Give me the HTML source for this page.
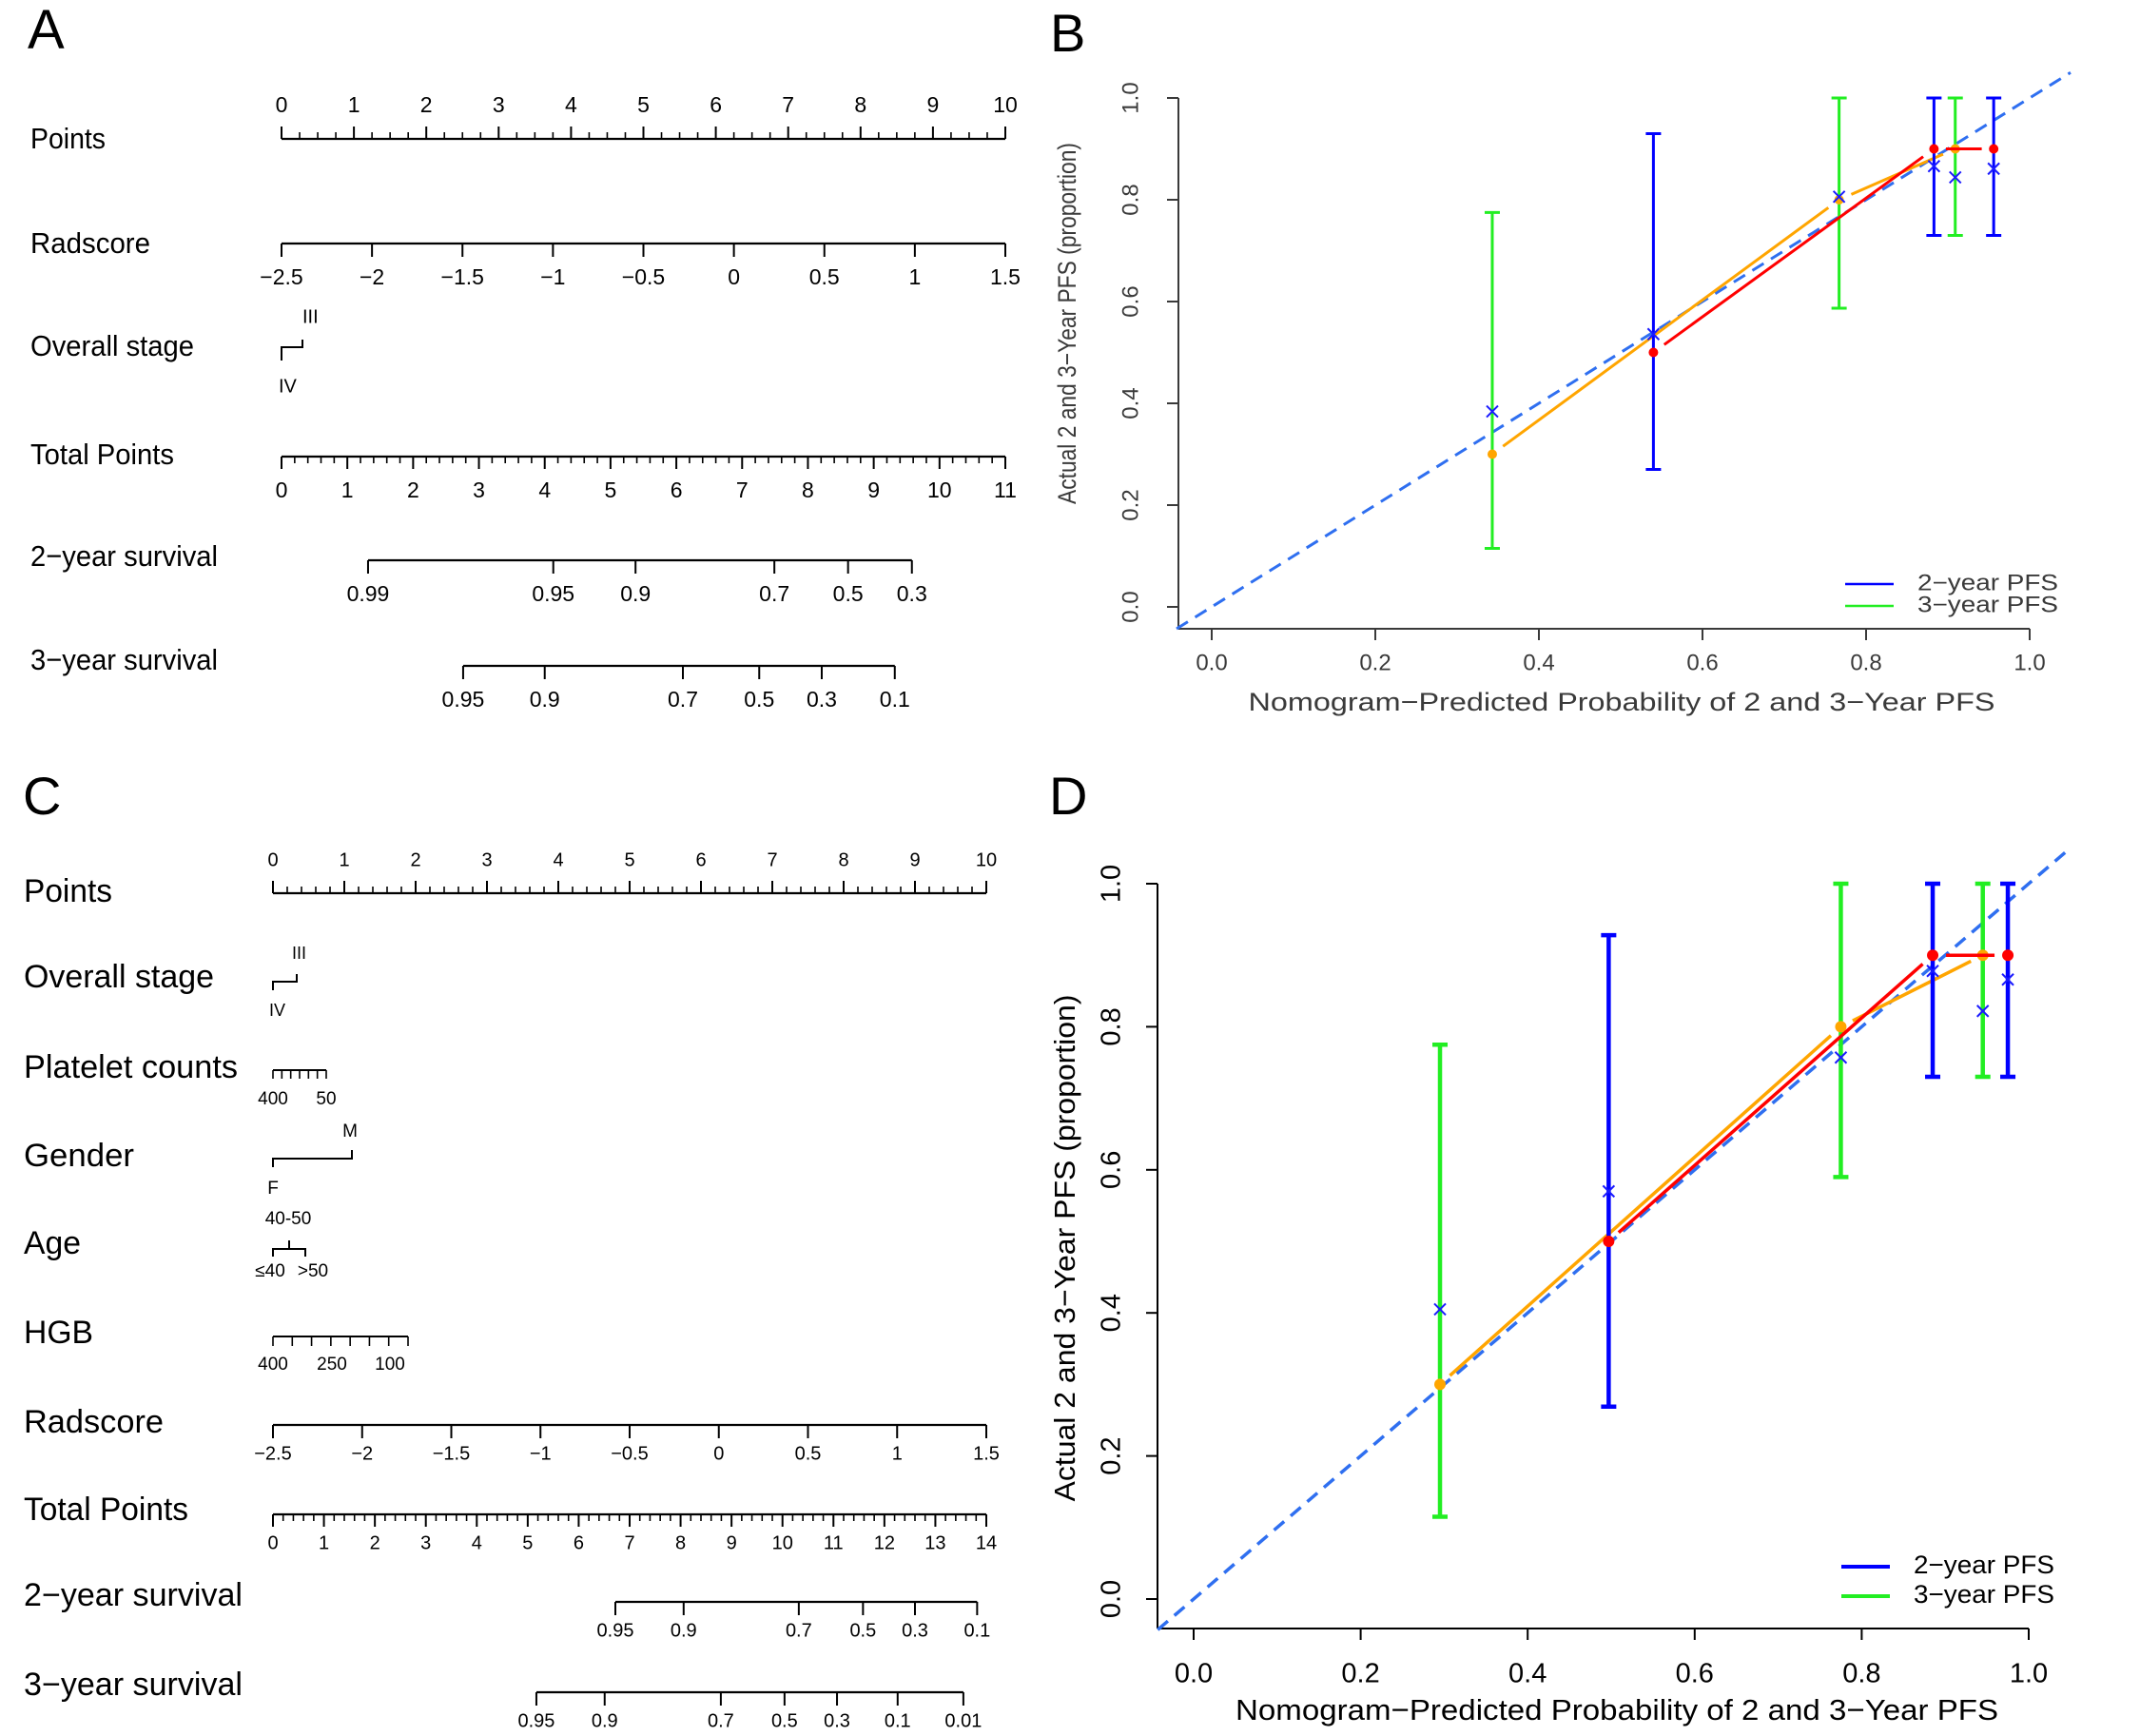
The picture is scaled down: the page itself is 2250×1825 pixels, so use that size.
<!DOCTYPE html>
<html><head><meta charset="utf-8"><style>
html,body{margin:0;padding:0;background:#fff}
svg{display:block}
text{font-family:"Liberation Sans",sans-serif}
</style></head><body>
<svg id="fig" width="2250" height="1825" viewBox="0 0 2250 1825" xmlns="http://www.w3.org/2000/svg">
<g id="nomoA"></g>
<g id="nomoC"></g>
<g id="calB"></g>
<g id="calD"></g>
<text x="29" y="51" font-size="58">A</text>
<text x="1104" y="54" font-size="56">B</text>
<text x="24" y="856" font-size="56">C</text>
<text x="1103" y="856" font-size="56">D</text>
</svg>
<script>
// ---- Calibration data (panel B) ----
const bPred2 = [0.54, 0.883, 0.956];
const bObs2 = [0.5, 0.9, 0.9];
const bLo2 = [0.27, 0.73, 0.73];
const bHi2 = [0.93, 1.0, 1.0];
const bCorr2 = [0.536, 0.866, 0.861];
const bPred3 = [0.343, 0.767, 0.909];
const bObs3 = [0.3, 0.8, 0.9];
const bLo3 = [0.115, 0.587, 0.73];
const bHi3 = [0.775, 1.0, 1.0];
const bCorr3 = [0.384, 0.806, 0.844];
// ---- Calibration data (panel D) ----
const dPred2 = [0.497, 0.885, 0.975];
const dObs2 = [0.5, 0.9, 0.9];
const dLo2 = [0.269, 0.73, 0.73];
const dHi2 = [0.928, 1.0, 1.0];
const dCorr2 = [0.57, 0.878, 0.866];
const dPred3 = [0.295, 0.775, 0.945];
const dObs3 = [0.3, 0.8, 0.9];
const dLo3 = [0.115, 0.59, 0.73];
const dHi3 = [0.775, 1.0, 1.0];
const dCorr3 = [0.405, 0.757, 0.822];
const calTicks = [0, 0.2, 0.4, 0.6, 0.8, 1.0];
const calTickLabels = ["0.0", "0.2", "0.4", "0.6", "0.8", "1.0"];
const legendLabels = ["2\u2212year PFS", "3\u2212year PFS"];
// ---- Nomogram scales ----
const pointsTicks = [0,1,2,3,4,5,6,7,8,9,10];
const radTicks = [-2.5,-2,-1.5,-1,-0.5,0,0.5,1,1.5];
const radLabels = ["\u22122.5","\u22122","\u22121.5","\u22121","\u22120.5","0","0.5","1","1.5"];
const totalTicksA = [0,1,2,3,4,5,6,7,8,9,10,11];
const totalTicksC = [0,1,2,3,4,5,6,7,8,9,10,11,12,13,14];
const surv2LabelsA = ["0.99","0.95","0.9","0.7","0.5","0.3"];
const surv2TotalA = [1.315, 4.13, 5.38, 7.49, 8.61, 9.58];
const surv3LabelsA = ["0.95","0.9","0.7","0.5","0.3","0.1"];
const surv3TotalA = [2.76, 4.00, 6.10, 7.26, 8.21, 9.32];
const surv2LabelsC = ["0.95","0.9","0.7","0.5","0.3","0.1"];
const surv2TotalC = [6.72, 8.06, 10.32, 11.58, 12.60, 13.82];
const surv3LabelsC = ["0.95","0.9","0.7","0.5","0.3","0.1","0.01"];
const surv3TotalC = [5.17, 6.51, 8.79, 10.04, 11.07, 12.26, 13.55];

const NS = "http://www.w3.org/2000/svg";
function mk(parent, tag, attrs, txt){
  const e = document.createElementNS(NS, tag);
  for (const k in attrs) e.setAttribute(k, attrs[k]);
  if (txt !== undefined) e.textContent = txt;
  parent.appendChild(e);
  return e;
}
function line(p,x1,y1,x2,y2,st,w,extra){
  const e = mk(p,'line',Object.assign({x1:x1,y1:y1,x2:x2,y2:y2,stroke:st,'stroke-width':w},extra||{}));
  return e;
}

// ================= Nomograms =================
function nomogram(g, cfg){
  const X0 = cfg.x0, X1 = cfg.x1;
  const ptX = v => X0 + (X1-X0)*v/10;
  const radX = v => X0 + (X1-X0)*(v+2.5)/4;
  const totX = v => X0 + (X1-X0)*v/cfg.totMax;
  const lw = 2.2;
  cfg.rows.forEach(r=>{
    const t = mk(g,'text',{x:cfg.lx, y:r.y, 'font-size':cfg.lfs, 'dominant-baseline':'middle', textLength:r.w, lengthAdjust:'spacingAndGlyphs'}, r.t);
    
    
  });
  const pa = mk(g,'g',{});
  
  
  line(pa,X0,cfg.py,X1,cfg.py,'#000',lw);
  for (let i=0;i<=10*cfg.pMinor;i++){
    const v=i/cfg.pMinor; const major = i%cfg.pMinor===0;
    line(pa,ptX(v),cfg.py,ptX(v),cfg.py-(major?13:7),'#000',major?2:1.6);
  }
  pointsTicks.forEach(v=>{
    mk(pa,'text',{x:ptX(v),y:cfg.py-34,'font-size':cfg.tfs,'text-anchor':'middle','dominant-baseline':'middle'},String(v));
  });
  const ra = mk(g,'g',{});
  
  
  line(ra,X0,cfg.ry,X1,cfg.ry,'#000',lw);
  radTicks.forEach((v,i)=>{
    line(ra,radX(v),cfg.ry,radX(v),cfg.ry+14,'#000',2);
    mk(ra,'text',{x:radX(v),y:cfg.ry+cfg.rlab,'font-size':cfg.tfs,'text-anchor':'middle','dominant-baseline':'middle'},radLabels[i]);
  });
  const ta = mk(g,'g',{});
  
  
  line(ta,X0,cfg.ty,X1,cfg.ty,'#000',lw);
  for (let i=0;i<=cfg.totMax*5;i++){
    const v=i/5; const major=i%5===0;
    line(ta,totX(v),cfg.ty,totX(v),cfg.ty+(major?13:7),'#000',major?2:1.6);
  }
  cfg.totTicks.forEach(v=>{
    mk(ta,'text',{x:totX(v),y:cfg.ty+cfg.rlab,'font-size':cfg.tfs,'text-anchor':'middle','dominant-baseline':'middle'},String(v));
  });
  [[cfg.s2y,cfg.s2t,cfg.s2l,'two-year-survival-axis'],[cfg.s3y,cfg.s3t,cfg.s3l,'three-year-survival-axis']].forEach(s=>{
    const sa = mk(g,'g',{});
    
    
    const xs = s[1].map(totX);
    line(sa,xs[0],s[0],xs[xs.length-1],s[0],'#000',lw);
    xs.forEach((x,i)=>{
      line(sa,x,s[0],x,s[0]+14,'#000',2);
      mk(sa,'text',{x:x,y:s[0]+cfg.rlab,'font-size':cfg.tfs,'text-anchor':'middle','dominant-baseline':'middle'},s[2][i]);
    });
  });
}

nomogram(document.getElementById('nomoA'),{
  x0:296,x1:1057,lx:32,lfs:31,tfs:23,pMinor:4,totMax:11,totTicks:totalTicksA,
  py:146,ry:256,ty:480,s2y:589,s3y:700,rlab:37,
  s2t:surv2TotalA,s2l:surv2LabelsA,s3t:surv3TotalA,s3l:surv3LabelsA,
  rows:[{t:'Points',y:148,w:79,n:'points-label'},{t:'Radscore',y:258,w:126,n:'radscore-label'},
        {t:'Overall stage',y:366,w:172,n:'overall-stage-label'},{t:'Total Points',y:480,w:151,n:'total-points-label'},
        {t:'2\u2212year survival',y:587,w:197,n:'two-year-survival-label'},{t:'3\u2212year survival',y:696,w:197,n:'three-year-survival-label'}]
});
nomogram(document.getElementById('nomoC'),{
  x0:287,x1:1037,lx:25,lfs:34,tfs:20,pMinor:5,totMax:14,totTicks:totalTicksC,
  py:939,ry:1498,ty:1592,s2y:1684,s3y:1779,rlab:31,
  s2t:surv2TotalC,s2l:surv2LabelsC,s3t:surv3TotalC,s3l:surv3LabelsC,
  rows:[{t:'Points',y:939,w:93,n:'points-label'},{t:'Overall stage',y:1029,w:200,n:'overall-stage-label'},
        {t:'Platelet counts',y:1124,w:225,n:'platelet-counts-label'},{t:'Gender',y:1217,w:116,n:'gender-label'},
        {t:'Age',y:1309,w:60,n:'age-label'},{t:'HGB',y:1403,w:73,n:'hgb-label'},
        {t:'Radscore',y:1497,w:147,n:'radscore-label'},{t:'Total Points',y:1589,w:173,n:'total-points-label'},
        {t:'2\u2212year survival',y:1679,w:230,n:'two-year-survival-label'},{t:'3\u2212year survival',y:1773,w:230,n:'three-year-survival-label'}]
});

(function(){
  const gA = document.getElementById('nomoA');
  const s = mk(gA,'g',{});
  
  
  mk(s,'path',{d:'M296,379 V365 H318 V357',fill:'none',stroke:'#000','stroke-width':2});
  mk(s,'text',{x:318,y:334,'font-size':20,'dominant-baseline':'middle'},'III');
  mk(s,'text',{x:293,y:407,'font-size':20,'dominant-baseline':'middle'},'IV');

  const gC = document.getElementById('nomoC');
  const st = mk(gC,'g',{});
  
  
  mk(st,'path',{d:'M287,1041 V1032 H312 V1024',fill:'none',stroke:'#000','stroke-width':2});
  mk(st,'text',{x:307,y:1003,'font-size':18,'dominant-baseline':'middle'},'III');
  mk(st,'text',{x:283,y:1063,'font-size':18,'dominant-baseline':'middle'},'IV');

  const pl = mk(gC,'g',{});
  
  
  line(pl,287,1125,343,1125,'#000',2);
  for(let i=0;i<7;i++) line(pl,287+i*56/6,1125,287+i*56/6,1134,'#000',1.6);
  mk(pl,'text',{x:287,y:1156,'font-size':19,'text-anchor':'middle','dominant-baseline':'middle'},'400');
  mk(pl,'text',{x:343,y:1156,'font-size':19,'text-anchor':'middle','dominant-baseline':'middle'},'50');

  const ge = mk(gC,'g',{});
  
  
  mk(ge,'path',{d:'M287,1227 V1218 H370 V1209',fill:'none',stroke:'#000','stroke-width':2});
  mk(ge,'text',{x:368,y:1190,'font-size':19,'text-anchor':'middle','dominant-baseline':'middle'},'M');
  mk(ge,'text',{x:287,y:1250,'font-size':19,'text-anchor':'middle','dominant-baseline':'middle'},'F');

  const ag = mk(gC,'g',{});
  
  
  mk(ag,'path',{d:'M287,1321 V1313 H321 V1321 M304,1313 V1304',fill:'none',stroke:'#000','stroke-width':2});
  mk(ag,'text',{x:303,y:1282,'font-size':19,'text-anchor':'middle','dominant-baseline':'middle'},'40-50');
  mk(ag,'text',{x:284,y:1337,'font-size':19,'text-anchor':'middle','dominant-baseline':'middle'},'\u226440');
  mk(ag,'text',{x:329,y:1337,'font-size':19,'text-anchor':'middle','dominant-baseline':'middle'},'>50');

  const hg = mk(gC,'g',{});
  
  
  line(hg,287,1405,429,1405,'#000',2);
  for(let i=0;i<8;i++) line(hg,287+i*142/7,1405,287+i*142/7,1415,'#000',1.6);
  [['400',287],['250',349],['100',410]].forEach(a=>mk(hg,'text',{x:a[1],y:1435,'font-size':19,'text-anchor':'middle','dominant-baseline':'middle'},a[0]));
})();

// ================= Calibration plots =================
function calib(g, c){
  const X = v => c.x0 + v*(c.x1-c.x0);
  const Y = v => c.y0 - v*(c.y0-c.y1);
  const tc = c.tcol;
  const ax = mk(g,'g',{});
  
  
  line(ax,c.axX,c.axY,X(1),c.axY,tc,2);
  calTicks.forEach((v,i)=>{
    line(ax,X(v),c.axY,X(v),c.axY+12,tc,2);
    mk(ax,'text',{x:X(v),y:c.xlabY,'font-size':c.tfs,fill:tc,'text-anchor':'middle','dominant-baseline':'middle'},calTickLabels[i]);
  });
  const ay = mk(g,'g',{});
  
  
  line(ay,c.axX,c.axY,c.axX,Y(1),tc,2);
  calTicks.forEach((v,i)=>{
    line(ay,c.axX,Y(v),c.axX-12,Y(v),tc,2);
    mk(ay,'text',{x:c.ylabX,y:Y(v),'font-size':c.tfs,fill:tc,'text-anchor':'middle','dominant-baseline':'middle',transform:`rotate(-90 ${c.ylabX} ${Y(v)})`},calTickLabels[i]);
  });
  const xt = mk(g,'text',{x:c.xtX,y:c.xtY,'font-size':c.ttfs,fill:tc,'text-anchor':'middle','dominant-baseline':'middle',textLength:c.xtW,lengthAdjust:'spacingAndGlyphs'},'Nomogram\u2212Predicted Probability of 2 and 3\u2212Year PFS');
  
  
  const yt = mk(g,'text',{x:c.ytX,y:c.ytY,'font-size':c.ttfs,fill:tc,'text-anchor':'middle','dominant-baseline':'middle',textLength:c.ytW,lengthAdjust:'spacingAndGlyphs',transform:`rotate(-90 ${c.ytX} ${c.ytY})`},'Actual 2 and 3\u2212Year PFS (proportion)');
  
  
  const d = line(g,X(c.dlo),Y(c.dlo),X(1.05),Y(1.05),'#2f6ff0',c.dw,{'stroke-dasharray':'14 9'});
  
  
  function series(pred,obs,lo,hi,corr,barCol,lineCol,name){
    const sg = mk(g,'g',{});
    
    
    pred.forEach((p,i)=>{
      const x=X(p);
      line(sg,x,Y(lo[i]),x,Y(hi[i]),barCol,c.ew);
      line(sg,x-8,Y(lo[i]),x+8,Y(lo[i]),barCol,c.ew);
      line(sg,x-8,Y(hi[i]),x+8,Y(hi[i]),barCol,c.ew);
    });
    for(let i=0;i<pred.length-1;i++){
      const xa=X(pred[i]),ya=Y(obs[i]),xb=X(pred[i+1]),yb=Y(obs[i+1]);
      const L=Math.hypot(xb-xa,yb-ya),gp=Math.min(14,L*0.2);
      const ux=(xb-xa)/L,uy=(yb-ya)/L;
      line(sg,xa+ux*gp,ya+uy*gp,xb-ux*gp,yb-uy*gp,lineCol,c.lw);
    }
    pred.forEach((p,i)=>{
      mk(sg,'circle',{cx:X(p),cy:Y(obs[i]),r:c.pr,fill:lineCol});
      const cx=X(p),cy=Y(corr[i]),s=6;
      line(sg,cx-s,cy-s,cx+s,cy+s,'#1a1aff',2);
      line(sg,cx-s,cy+s,cx+s,cy-s,'#1a1aff',2);
    });
  }
  series(c.p3,c.o3,c.l3,c.h3,c.c3,'#22ee22','#ffa500','three-year-series');
  series(c.p2,c.o2,c.l2,c.h2,c.c2,'#0000ff','#ff0000','two-year-series');
  const lg = mk(g,'g',{});
  
  
  [['#0000ff',c.lgY1],['#22ee22',c.lgY2]].forEach((a,i)=>{
    const le = mk(lg,'g',{});
    
    
    line(le,c.lgX,a[1],c.lgX+51,a[1],a[0],c.lgw);
    mk(le,'text',{x:c.lgX+76,y:a[1],'font-size':c.lgfs,fill:tc,'dominant-baseline':'middle',textLength:148,lengthAdjust:'spacingAndGlyphs'},legendLabels[i]);
  });
}

calib(document.getElementById('calB'),{
  x0:1274,x1:2134,y0:638,y1:103,axX:1239,axY:661,tcol:'#3a3a3a',tfs:24,ttfs:27,
  xlabY:698,ylabX:1190,xtX:1705,xtY:740,xtW:785,ytX:1124,ytY:340,ytW:380,
  dlo:-0.043,dw:3,ew:3,lw:3,pr:5,lgX:1940,lgY1:614,lgY2:637,lgw:2.5,lgfs:24,
  p2:bPred2,o2:bObs2,l2:bLo2,h2:bHi2,c2:bCorr2,p3:bPred3,o3:bObs3,l3:bLo3,h3:bHi3,c3:bCorr3
});
calib(document.getElementById('calD'),{
  x0:1255,x1:2133,y0:1681,y1:929,axX:1217,axY:1712,tcol:'#000',tfs:29,ttfs:31,
  xlabY:1761,ylabX:1170,xtX:1700,xtY:1800,xtW:802,ytX:1122,ytY:1312,ytW:533,
  dlo:-0.043,dw:3.5,ew:4.5,lw:3.5,pr:6,lgX:1936,lgY1:1647,lgY2:1678,lgw:4,lgfs:27,
  p2:dPred2,o2:dObs2,l2:dLo2,h2:dHi2,c2:dCorr2,p3:dPred3,o3:dObs3,l3:dLo3,h3:dHi3,c3:dCorr3
});
</script>
</body></html>
